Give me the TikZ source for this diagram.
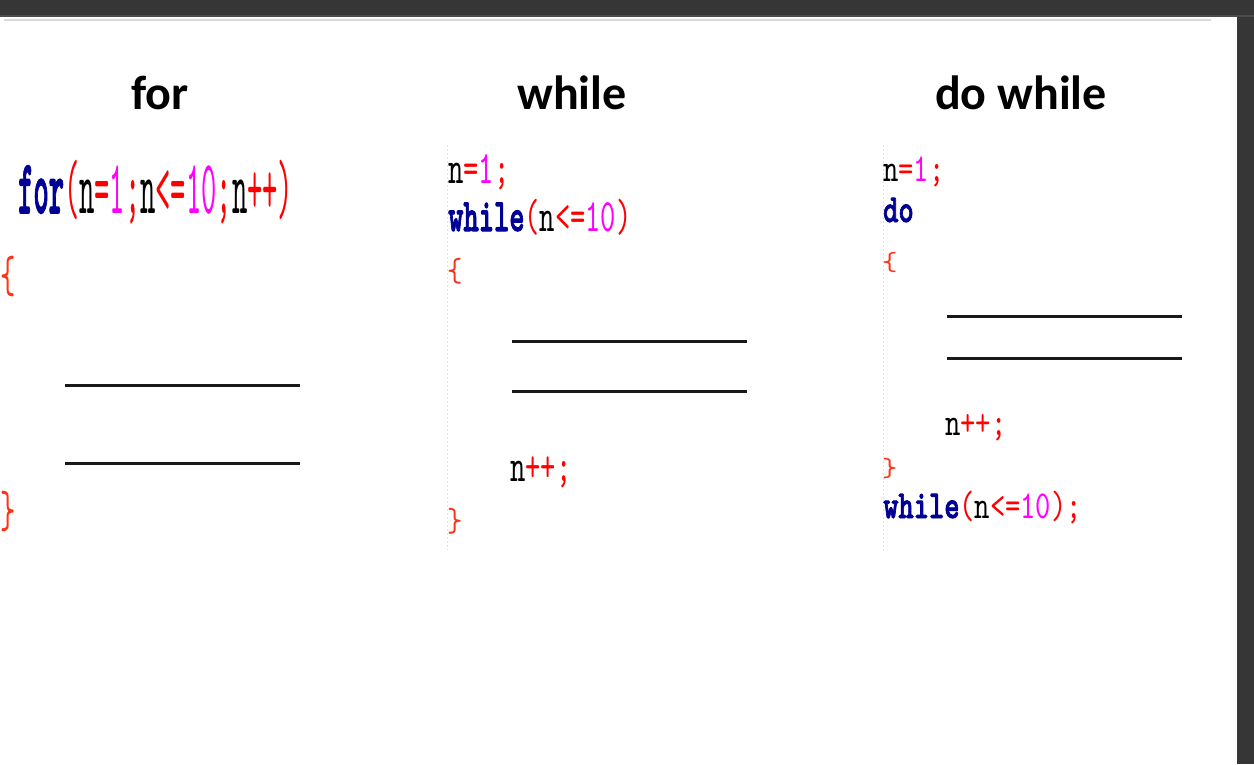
\documentclass[tikz,border=0pt]{standalone}
\usepackage{fontspec}
\usepackage{graphicx}
\newfontfamily\codefont{lmmono10-regular.otf}[BoldFont=lmmonolt10-bold.otf,BoldFeatures={FakeBold=2.2}]
\newfontfamily\titlefont{Carlito}
\definecolor{kwblue}{RGB}{0,0,150}
\definecolor{codered}{RGB}{255,0,0}
\definecolor{bracered}{RGB}{255,50,20}
\definecolor{codemag}{RGB}{255,0,255}
\definecolor{barbg}{RGB}{54,54,54}
\definecolor{blankline}{RGB}{25,25,25}
\newcommand\kw[1]{{\bfseries\color{kwblue}#1}}
\newcommand\rd[1]{{\color{codered}#1}}
\newcommand\mg[1]{{\color{codemag}#1}}
\newcommand\br[1]{{\color{bracered}#1}}
\newcommand\vscl[2]{\scalebox{1}[#1]{#2}}
\tikzset{
  title/.style={font=\titlefont\bfseries\fontsize{48}{56}\selectfont, inner sep=0pt, anchor=base},
  code/.style={font=\codefont\fontsize{29.1}{34}\selectfont, inner sep=0pt, anchor=base west},
  bracenode/.style={font=\codefont\fontsize{29.1}{34}\selectfont, inner sep=0pt, anchor=west},
  blank/.style={line width=3pt, draw=blankline},
  guide/.style={draw=black!12, line width=0.8pt, dash pattern=on 2pt off 2pt}
}
\begin{document}
\begin{tikzpicture}[x=1pt,y=-1pt]
\useasboundingbox (0,0) rectangle (1254,764);
\fill[white] (0,0) rectangle (1254,764);
% window chrome
\fill[barbg] (0,0) rectangle (1254,16);
\fill[barbg] (1237,16) rectangle (1254,764);
\fill[black!70] (0,15) rectangle (1254,16.5);
\draw[black!15, line width=2pt] (4,20) -- (1211,20);

% titles
\node[title] (tfor) at (160,109) {for};
\node[title] (twhile) at (572,109) {while};
\node[title] (tdo) at (1021,109) {do while};

% ---------- for column ----------
\def\sf{2.64}
\node[code] (f1) at (18,213) {\vscl{\sf}{\kw{for}\rd{(}n\rd{=}\mg{1}\rd{;}n\rd{<=}\mg{10}\rd{;}n\rd{++)}}};
\node[bracenode] (fob) at (0,276) {\vscl{1.8}{\br{\{}}};
\coordinate (fa1) at (65,385); \coordinate (fb1) at (300,385);
\coordinate (fa2) at (65,463); \coordinate (fb2) at (300,463);
\draw[blank] (fa1) -- (fb1);
\draw[blank] (fa2) -- (fb2);
\node[bracenode] (fcb) at (0,511) {\vscl{1.8}{\br{\}}}};

% ---------- while column ----------
\coordinate (wg1) at (447,145); \coordinate (wg2) at (447,550);
\draw[guide] (wg1) -- (wg2);
\def\sw{1.6}
\node[code] (w1) at (448,183) {\vscl{\sw}{n\rd{=}\mg{1}\rd{;}}};
\node[code] (w2) at (448,231) {\vscl{\sw}{\kw{while}\rd{(}n\rd{<=}\mg{10}\rd{)}}};
\node[bracenode] (wob) at (447,271.5) {\vscl{1.15}{\br{\{}}};
\coordinate (wa1) at (512,341); \coordinate (wb1) at (747,341);
\coordinate (wa2) at (512,391); \coordinate (wb2) at (747,391);
\draw[blank] (wa1) -- (wb1);
\draw[blank] (wa2) -- (wb2);
\node[code] (w3) at (510,481) {\vscl{\sw}{n\rd{++;}}};
\node[bracenode] (wcb) at (447,521) {\vscl{1.15}{\br{\}}}};

% ---------- do while column ----------
\coordinate (dg1) at (883,145); \coordinate (dg2) at (883,552);
\draw[guide] (dg1) -- (dg2);
\def\sd{1.36}
\node[code] (d1) at (883,181) {\vscl{\sd}{n\rd{=}\mg{1}\rd{;}}};
\node[code] (d2) at (883,222) {\vscl{\sd}{\kw{do}}};
\node[bracenode] (dob) at (882,262) {\vscl{0.9}{\br{\{}}};
\coordinate (da1) at (947,316); \coordinate (db1) at (1182,316);
\coordinate (da2) at (947,358); \coordinate (db2) at (1182,358);
\draw[blank] (da1) -- (db1);
\draw[blank] (da2) -- (db2);
\node[code] (d3) at (945,435) {\vscl{\sd}{n\rd{++;}}};
\node[bracenode] (dcb) at (882,468) {\vscl{0.9}{\br{\}}}};
\node[code] (d4) at (883,518) {\vscl{\sd}{\kw{while}\rd{(}n\rd{<=}\mg{10}\rd{);}}};
\end{tikzpicture}
\end{document}
